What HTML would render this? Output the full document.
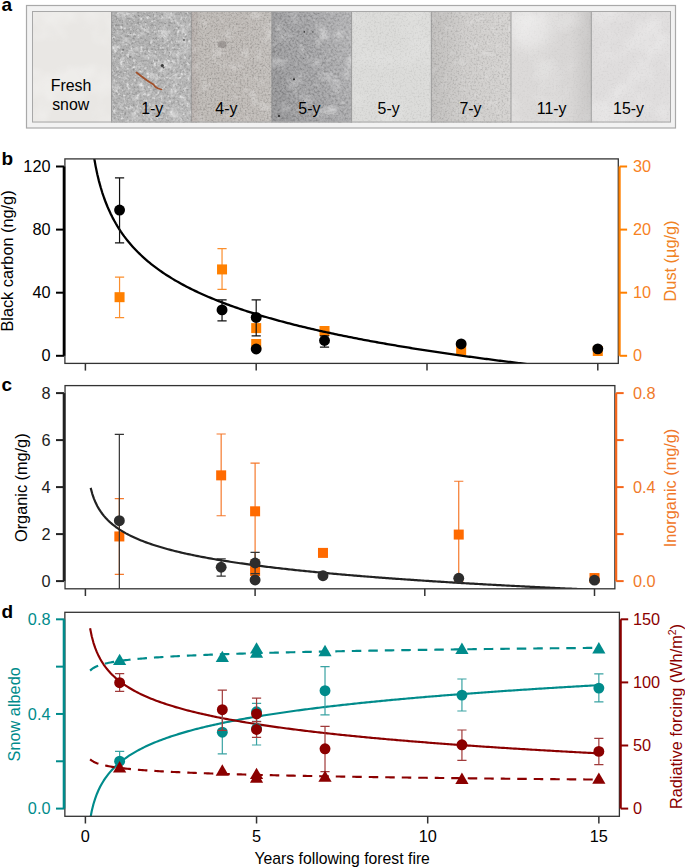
<!DOCTYPE html>
<html><head><meta charset="utf-8"><style>
html,body{margin:0;padding:0;background:#fff;}
body{width:685px;height:868px;overflow:hidden;font-family:"Liberation Sans",sans-serif;}
svg{display:block;}
</style></head><body>
<svg width="685" height="868" viewBox="0 0 685 868">
<defs><filter id="lw" x="0" y="0" width="100%" height="100%" color-interpolation-filters="sRGB"><feTurbulence type="fractalNoise" baseFrequency="0.03" numOctaves="3" seed="5"/><feColorMatrix type="matrix" values="0 0 0 0 1  0 0 0 0 1  0 0 0 0 1  3.0 0 0 0 -1.3"/></filter><filter id="gw1" x="0" y="0" width="100%" height="100%" color-interpolation-filters="sRGB"><feTurbulence type="fractalNoise" baseFrequency="0.45" numOctaves="2" seed="7"/><feColorMatrix type="matrix" values="0 0 0 0 1  0 0 0 0 1  0 0 0 0 1  2.0 0 0 0 -1.0"/><feGaussianBlur stdDeviation="0.45"/></filter><filter id="gk1" x="0" y="0" width="100%" height="100%" color-interpolation-filters="sRGB"><feTurbulence type="fractalNoise" baseFrequency="0.45" numOctaves="2" seed="7"/><feColorMatrix type="matrix" values="0 0 0 0 0  0 0 0 0 0  0 0 0 0 0  -2.0 0 0 0 1.0"/><feGaussianBlur stdDeviation="0.45"/></filter><filter id="gw2" x="0" y="0" width="100%" height="100%" color-interpolation-filters="sRGB"><feTurbulence type="fractalNoise" baseFrequency="0.55" numOctaves="2" seed="17"/><feColorMatrix type="matrix" values="0 0 0 0 1  0 0 0 0 1  0 0 0 0 1  2.0 0 0 0 -1.0"/><feGaussianBlur stdDeviation="0.45"/></filter><filter id="gk2" x="0" y="0" width="100%" height="100%" color-interpolation-filters="sRGB"><feTurbulence type="fractalNoise" baseFrequency="0.55" numOctaves="2" seed="17"/><feColorMatrix type="matrix" values="0 0 0 0 0  0 0 0 0 0  0 0 0 0 0  -2.0 0 0 0 1.0"/><feGaussianBlur stdDeviation="0.45"/></filter><filter id="gw3" x="0" y="0" width="100%" height="100%" color-interpolation-filters="sRGB"><feTurbulence type="fractalNoise" baseFrequency="0.3" numOctaves="2" seed="27"/><feColorMatrix type="matrix" values="0 0 0 0 1  0 0 0 0 1  0 0 0 0 1  2.0 0 0 0 -1.0"/><feGaussianBlur stdDeviation="0.45"/></filter><filter id="gk3" x="0" y="0" width="100%" height="100%" color-interpolation-filters="sRGB"><feTurbulence type="fractalNoise" baseFrequency="0.3" numOctaves="2" seed="27"/><feColorMatrix type="matrix" values="0 0 0 0 0  0 0 0 0 0  0 0 0 0 0  -2.0 0 0 0 1.0"/><feGaussianBlur stdDeviation="0.45"/></filter><filter id="lb1" x="0" y="0" width="100%" height="100%" color-interpolation-filters="sRGB"><feTurbulence type="fractalNoise" baseFrequency="0.1" numOctaves="4" seed="2"/><feColorMatrix type="matrix" values="0 0 0 0 1  0 0 0 0 1  0 0 0 0 1  3.4 0 0 0 -1.75"/></filter><filter id="lf1" x="0" y="0" width="100%" height="100%" color-interpolation-filters="sRGB"><feTurbulence type="fractalNoise" baseFrequency="0.3" numOctaves="2" seed="3"/><feColorMatrix type="matrix" values="0 0 0 0 1  0 0 0 0 1  0 0 0 0 1  3.5 0 0 0 -1.95"/></filter><filter id="dk1" x="0" y="0" width="100%" height="100%" color-interpolation-filters="sRGB"><feTurbulence type="fractalNoise" baseFrequency="0.6" numOctaves="1" seed="4"/><feColorMatrix type="matrix" values="0 0 0 0 0  0 0 0 0 0  0 0 0 0 0  7.0 0 0 0 -4.9"/></filter><filter id="lb2" x="0" y="0" width="100%" height="100%" color-interpolation-filters="sRGB"><feTurbulence type="fractalNoise" baseFrequency="0.08" numOctaves="4" seed="12"/><feColorMatrix type="matrix" values="0 0 0 0 1  0 0 0 0 1  0 0 0 0 1  3.0 0 0 0 -1.6"/></filter><filter id="dk2" x="0" y="0" width="100%" height="100%" color-interpolation-filters="sRGB"><feTurbulence type="fractalNoise" baseFrequency="0.6" numOctaves="1" seed="14"/><feColorMatrix type="matrix" values="0 0 0 0 0  0 0 0 0 0  0 0 0 0 0  7.0 0 0 0 -4.9"/></filter><filter id="lb3" x="0" y="0" width="100%" height="100%" color-interpolation-filters="sRGB"><feTurbulence type="fractalNoise" baseFrequency="0.07" numOctaves="4" seed="22"/><feColorMatrix type="matrix" values="0 0 0 0 1  0 0 0 0 1  0 0 0 0 1  3.0 0 0 0 -1.6"/></filter><filter id="dk3" x="0" y="0" width="100%" height="100%" color-interpolation-filters="sRGB"><feTurbulence type="fractalNoise" baseFrequency="0.6" numOctaves="1" seed="24"/><feColorMatrix type="matrix" values="0 0 0 0 0  0 0 0 0 0  0 0 0 0 0  7.0 0 0 0 -4.9"/></filter><filter id="lb4" x="0" y="0" width="100%" height="100%" color-interpolation-filters="sRGB"><feTurbulence type="fractalNoise" baseFrequency="0.05" numOctaves="4" seed="32"/><feColorMatrix type="matrix" values="0 0 0 0 1  0 0 0 0 1  0 0 0 0 1  3.0 0 0 0 -1.5"/></filter><filter id="lb5" x="0" y="0" width="100%" height="100%" color-interpolation-filters="sRGB"><feTurbulence type="fractalNoise" baseFrequency="0.12" numOctaves="4" seed="42"/><feColorMatrix type="matrix" values="0 0 0 0 1  0 0 0 0 1  0 0 0 0 1  3.0 0 0 0 -1.6"/></filter></defs>
<rect x="26.5" y="5.5" width="649" height="122.5" fill="#f2f2f2" stroke="#a9a9a9" stroke-width="1.2"/>
<rect x="32" y="11" width="639" height="111.5" fill="#ddd"/>
<rect x="32.0" y="11" width="79.5" height="111.5" fill="#e9e7e4"/>
<rect x="111.5" y="11" width="79.8" height="111.5" fill="#acacac"/>
<rect x="191.3" y="11" width="80.5" height="111.5" fill="#bebab6"/>
<rect x="271.8" y="11" width="79.8" height="111.5" fill="#a3a3a5"/>
<rect x="351.6" y="11" width="79.7" height="111.5" fill="#dbdbd9"/>
<rect x="431.3" y="11" width="79.7" height="111.5" fill="#d3d1cf"/>
<rect x="511.0" y="11" width="80.3" height="111.5" fill="#dcdad9"/>
<rect x="591.3" y="11" width="79.7" height="111.5" fill="#dfdddd"/>
<rect x="32.0" y="11" width="79.5" height="111.5" filter="url(#lw)" opacity="0.25"/>
<rect x="111.5" y="11" width="79.8" height="111.5" filter="url(#gw1)" opacity="0.28"/>
<rect x="111.5" y="11" width="79.8" height="111.5" filter="url(#gk1)" opacity="0.28"/>
<rect x="111.5" y="11" width="79.8" height="111.5" filter="url(#lb1)" opacity="0.35"/>
<rect x="111.5" y="11" width="79.8" height="111.5" filter="url(#lf1)" opacity="0.6"/>
<rect x="111.5" y="11" width="79.8" height="111.5" filter="url(#dk1)" opacity="0.2"/>
<rect x="191.3" y="11" width="80.5" height="111.5" filter="url(#gw2)" opacity="0.25"/>
<rect x="191.3" y="11" width="80.5" height="111.5" filter="url(#gk2)" opacity="0.25"/>
<rect x="191.3" y="11" width="80.5" height="111.5" filter="url(#lb2)" opacity="0.3"/>
<rect x="191.3" y="11" width="80.5" height="111.5" filter="url(#dk2)" opacity="0.15"/>
<rect x="271.8" y="11" width="79.8" height="111.5" filter="url(#gw1)" opacity="0.28"/>
<rect x="271.8" y="11" width="79.8" height="111.5" filter="url(#gk1)" opacity="0.28"/>
<rect x="271.8" y="11" width="79.8" height="111.5" filter="url(#lb3)" opacity="0.35"/>
<rect x="271.8" y="11" width="79.8" height="111.5" filter="url(#dk3)" opacity="0.2"/>
<rect x="351.6" y="11" width="79.7" height="111.5" filter="url(#gw2)" opacity="0.1"/>
<rect x="351.6" y="11" width="79.7" height="111.5" filter="url(#gk2)" opacity="0.1"/>
<rect x="351.6" y="11" width="79.7" height="111.5" filter="url(#lw)" opacity="0.12"/>
<rect x="431.3" y="11" width="79.7" height="111.5" filter="url(#gw2)" opacity="0.18"/>
<rect x="431.3" y="11" width="79.7" height="111.5" filter="url(#gk2)" opacity="0.18"/>
<rect x="431.3" y="11" width="79.7" height="111.5" filter="url(#lb5)" opacity="0.2"/>
<rect x="511.0" y="11" width="80.3" height="111.5" filter="url(#lw)" opacity="0.22"/>
<rect x="511.0" y="11" width="80.3" height="111.5" filter="url(#gw2)" opacity="0.05"/>
<rect x="511.0" y="11" width="80.3" height="111.5" filter="url(#gk2)" opacity="0.05"/>
<rect x="591.3" y="11" width="79.7" height="111.5" filter="url(#lw)" opacity="0.25"/>
<rect x="591.3" y="11" width="79.7" height="111.5" filter="url(#gw2)" opacity="0.05"/>
<rect x="591.3" y="11" width="79.7" height="111.5" filter="url(#gk2)" opacity="0.05"/>
<defs><linearGradient id="g11" x1="0" x2="1" y1="0" y2="0"><stop offset="0" stop-color="#000" stop-opacity="0"/><stop offset="0.75" stop-color="#000" stop-opacity="0.02"/><stop offset="1" stop-color="#000" stop-opacity="0.09"/></linearGradient><linearGradient id="g7" x1="0" x2="1" y1="0" y2="0"><stop offset="0" stop-color="#000" stop-opacity="0.09"/><stop offset="0.45" stop-color="#000" stop-opacity="0.02"/><stop offset="1" stop-color="#000" stop-opacity="0.0"/></linearGradient><linearGradient id="g1" x1="0" x2="1" y1="0" y2="1"><stop offset="0" stop-color="#fff" stop-opacity="0"/><stop offset="1" stop-color="#fff" stop-opacity="0.15"/></linearGradient><linearGradient id="g4" x1="0" x2="1" y1="0" y2="0"><stop offset="0" stop-color="#5a3030" stop-opacity="0.1"/><stop offset="0.12" stop-color="#5a3030" stop-opacity="0.0"/><stop offset="1" stop-color="#fff" stop-opacity="0.05"/></linearGradient><linearGradient id="g5" x1="0" x2="1" y1="0.3" y2="0"><stop offset="0" stop-color="#000" stop-opacity="0.06"/><stop offset="0.4" stop-color="#fff" stop-opacity="0.0"/><stop offset="1" stop-color="#fff" stop-opacity="0.2"/></linearGradient><filter id="soft"><feGaussianBlur stdDeviation="2"/></filter><filter id="soft6" x="-50%" y="-50%" width="200%" height="200%"><feGaussianBlur stdDeviation="7"/></filter></defs>
<rect x="111.5" y="11" width="79.8" height="111.5" fill="url(#g1)"/>
<rect x="191.3" y="11" width="80.5" height="111.5" fill="url(#g4)"/>
<rect x="271.8" y="11" width="79.8" height="111.5" fill="url(#g5)"/>
<ellipse cx="331" cy="110" rx="6" ry="4" fill="#fff" opacity="0.45" filter="url(#soft)"/>
<rect x="511" y="11" width="80.3" height="111.5" fill="url(#g11)"/>
<clipPath id="c11"><rect x="511" y="11" width="80.3" height="111.5"/></clipPath>
<g clip-path="url(#c11)"><ellipse cx="530" cy="30" rx="22" ry="20" fill="#fff" opacity="0.35" filter="url(#soft6)"/></g>
<rect x="431.3" y="11" width="79.7" height="111.5" fill="url(#g7)"/>
<line x1="111.5" y1="11" x2="111.5" y2="122.5" stroke="#8a8a8a" stroke-width="1" opacity="0.75"/>
<line x1="191.3" y1="11" x2="191.3" y2="122.5" stroke="#8a8a8a" stroke-width="1" opacity="0.75"/>
<line x1="271.8" y1="11" x2="271.8" y2="122.5" stroke="#8a8a8a" stroke-width="1" opacity="0.75"/>
<line x1="351.6" y1="11" x2="351.6" y2="122.5" stroke="#8a8a8a" stroke-width="1" opacity="0.75"/>
<line x1="431.3" y1="11" x2="431.3" y2="122.5" stroke="#8a8a8a" stroke-width="1" opacity="0.75"/>
<line x1="511.0" y1="11" x2="511.0" y2="122.5" stroke="#8a8a8a" stroke-width="1" opacity="0.75"/>
<line x1="591.3" y1="11" x2="591.3" y2="122.5" stroke="#8a8a8a" stroke-width="1" opacity="0.75"/>
<rect x="32.5" y="11.5" width="638" height="110.5" fill="none" stroke="#a8a8a8" stroke-width="1"/>
<path d="M136.5,72.5 Q146,80 151,83 L153.5,84.5 L155,86.5 Q158,89 161.5,89.5" fill="none" stroke="#a0502a" stroke-width="1.7" stroke-linecap="round"/>
<circle cx="162.3" cy="65.5" r="1.6" fill="#3a3a3a"/><circle cx="163.5" cy="67.5" r="1" fill="#555"/>
<ellipse cx="222" cy="44.5" rx="4.5" ry="3.6" fill="#7e7876" opacity="0.5"/>
<circle cx="279" cy="116" r="1.1" fill="#222"/>
<circle cx="294" cy="79.3" r="1" fill="#222"/><circle cx="304.3" cy="31.9" r="0.8" fill="#333"/><circle cx="312.9" cy="31.9" r="0.7" fill="#333"/>
<circle cx="123" cy="50" r="0.7" fill="#444"/><circle cx="130" cy="57" r="0.7" fill="#444"/><circle cx="184" cy="40" r="0.9" fill="#555"/>
<g font-family='"Liberation Sans", sans-serif' font-size="15.9" fill="#000" text-anchor="middle">
<text x="71.0" y="90.9">Fresh</text><text x="70.7" y="109.9">snow</text>
<text x="152.25" y="114">1-y</text>
<text x="226.40" y="114">4-y</text>
<text x="309.35" y="114">5-y</text>
<text x="388.65" y="114">5-y</text>
<text x="470.45" y="114">7-y</text>
<text x="551.70" y="114">11-y</text>
<text x="628.55" y="114">15-y</text>
</g>
<clipPath id="cb"><rect x="64.90400000000001" y="158.9" width="553.3919999999999" height="204.49999999999997"/></clipPath>
<path d="M119.56,277.11 V317.62 M114.96,277.11 H124.16 M114.96,317.62 H124.16" stroke="#fb8f2e" stroke-width="1.2" fill="none"/>
<rect x="114.56" y="292.18" width="10" height="10" fill="#ff8000"/>
<path d="M222.04,248.53 V289.42 M217.44,248.53 H226.64 M217.44,289.42 H226.64" stroke="#fb8f2e" stroke-width="1.2" fill="none"/>
<rect x="217.04" y="264.42" width="10" height="10" fill="#ff8000"/>
<rect x="251.20" y="323.10" width="10" height="10" fill="#ff8000"/>
<rect x="251.20" y="339.00" width="10" height="10" fill="#ff8000"/>
<rect x="319.52" y="326.00" width="10" height="10" fill="#ff8000"/>
<rect x="456.16" y="344.99" width="10" height="10" fill="#ff8000"/>
<rect x="592.80" y="346.00" width="10" height="10" fill="#ff8000"/>
<path d="M92.23,145.06 L93.92,156.64 L95.60,166.12 L97.29,174.15 L98.97,181.12 L100.66,187.26 L102.34,192.77 L104.03,197.75 L105.71,202.30 L107.40,206.48 L109.08,210.36 L110.77,213.97 L112.45,217.35 L114.14,220.52 L115.83,223.52 L117.51,226.35 L119.20,229.04 L120.88,231.59 L122.57,234.03 L124.25,236.36 L125.94,238.59 L127.62,240.73 L129.31,242.79 L130.99,244.76 L132.68,246.67 L134.36,248.51 L136.05,250.29 L137.73,252.01 L139.42,253.67 L141.10,255.29 L142.79,256.85 L144.47,258.37 L146.16,259.85 L147.84,261.29 L149.53,262.69 L151.21,264.05 L152.90,265.38 L154.59,266.67 L156.27,267.94 L157.96,269.17 L159.64,270.38 L161.33,271.56 L163.01,272.71 L164.70,273.84 L166.38,274.94 L168.07,276.02 L169.75,277.09 L171.44,278.12 L173.12,279.14 L174.81,280.14 L176.49,281.12 L178.18,282.09 L179.86,283.03 L181.55,283.96 L183.23,284.87 L184.92,285.77 L186.60,286.65 L188.29,287.52 L189.98,288.37 L191.66,289.21 L193.35,290.04 L195.03,290.85 L196.72,291.66 L198.40,292.44 L200.09,293.22 L201.77,293.99 L203.46,294.74 L205.14,295.49 L206.83,296.22 L208.51,296.95 L210.20,297.66 L211.88,298.37 L213.57,299.06 L215.25,299.75 L216.94,300.42 L218.62,301.09 L220.31,301.75 L221.99,302.41 L223.68,303.05 L225.36,303.69 L227.05,304.31 L228.74,304.94 L230.42,305.55 L232.11,306.16 L233.79,306.76 L235.48,307.35 L237.16,307.94 L238.85,308.52 L240.53,309.09 L242.22,309.66 L243.90,310.22 L245.59,310.78 L247.27,311.33 L248.96,311.87 L250.64,312.41 L252.33,312.94 L254.01,313.47 L255.70,313.99 L257.38,314.51 L259.07,315.02 L260.75,315.53 L262.44,316.03 L264.13,316.53 L265.81,317.02 L267.50,317.51 L269.18,317.99 L270.87,318.47 L272.55,318.95 L274.24,319.42 L275.92,319.89 L277.61,320.35 L279.29,320.81 L280.98,321.26 L282.66,321.71 L284.35,322.16 L286.03,322.60 L287.72,323.04 L289.40,323.48 L291.09,323.91 L292.77,324.34 L294.46,324.76 L296.14,325.18 L297.83,325.60 L299.51,326.02 L301.20,326.43 L302.89,326.84 L304.57,327.24 L306.26,327.65 L307.94,328.05 L309.63,328.44 L311.31,328.84 L313.00,329.23 L314.68,329.61 L316.37,330.00 L318.05,330.38 L319.74,330.76 L321.42,331.14 L323.11,331.51 L324.79,331.88 L326.48,332.25 L328.16,332.61 L329.85,332.98 L331.53,333.34 L333.22,333.70 L334.90,334.05 L336.59,334.41 L338.28,334.76 L339.96,335.11 L341.65,335.45 L343.33,335.80 L345.02,336.14 L346.70,336.48 L348.39,336.82 L350.07,337.15 L351.76,337.49 L353.44,337.82 L355.13,338.15 L356.81,338.47 L358.50,338.80 L360.18,339.12 L361.87,339.44 L363.55,339.76 L365.24,340.08 L366.92,340.40 L368.61,340.71 L370.29,341.02 L371.98,341.33 L373.66,341.64 L375.35,341.95 L377.04,342.25 L378.72,342.55 L380.41,342.85 L382.09,343.15 L383.78,343.45 L385.46,343.75 L387.15,344.04 L388.83,344.33 L390.52,344.62 L392.20,344.91 L393.89,345.20 L395.57,345.49 L397.26,345.77 L398.94,346.05 L400.63,346.34 L402.31,346.62 L404.00,346.89 L405.68,347.17 L407.37,347.45 L409.05,347.72 L410.74,347.99 L412.43,348.27 L414.11,348.54 L415.80,348.80 L417.48,349.07 L419.17,349.34 L420.85,349.60 L422.54,349.87 L424.22,350.13 L425.91,350.39 L427.59,350.65 L429.28,350.91 L430.96,351.16 L432.65,351.42 L434.33,351.67 L436.02,351.93 L437.70,352.18 L439.39,352.43 L441.07,352.68 L442.76,352.93 L444.44,353.17 L446.13,353.42 L447.81,353.66 L449.50,353.91 L451.19,354.15 L452.87,354.39 L454.56,354.63 L456.24,354.87 L457.93,355.11 L459.61,355.35 L461.30,355.58 L462.98,355.82 L464.67,356.05 L466.35,356.28 L468.04,356.52 L469.72,356.75 L471.41,356.98 L473.09,357.21 L474.78,357.43 L476.46,357.66 L478.15,357.89 L479.83,358.11 L481.52,358.34 L483.20,358.56 L484.89,358.78 L486.58,359.00 L488.26,359.22 L489.95,359.44 L491.63,359.66 L493.32,359.88 L495.00,360.09 L496.69,360.31 L498.37,360.52 L500.06,360.74 L501.74,360.95 L503.43,361.16 L505.11,361.37 L506.80,361.58 L508.48,361.79 L510.17,362.00 L511.85,362.21 L513.54,362.42 L515.22,362.62 L516.91,362.83 L518.59,363.03 L520.28,363.24 L521.96,363.44 L523.65,363.64 L525.34,363.85 L527.02,364.05 L528.71,364.25 L530.39,364.45 L532.08,364.64 L533.76,364.84 L535.45,365.04 L537.13,365.24 L538.82,365.43 L540.50,365.63 L542.19,365.82 L543.87,366.01 L545.56,366.21 L547.24,366.40 L548.93,366.59 L550.61,366.78 L552.30,366.97 L553.98,367.16 L555.67,367.35 L557.35,367.54 L559.04,367.72 L560.73,367.91 L562.41,368.10 L564.10,368.28 L565.78,368.47 L567.47,368.65 L569.15,368.83 L570.84,369.02 L572.52,369.20 L574.21,369.38 L575.89,369.56 L577.58,369.74 L579.26,369.92 L580.95,370.10 L582.63,370.28 L584.32,370.46 L586.00,370.63 L587.69,370.81 L589.37,370.98 L591.06,371.16 L592.74,371.34 L594.43,371.51 L596.11,371.68 L597.80,371.86" fill="none" stroke="#000" stroke-width="2.3" clip-path="url(#cb)" stroke-linejoin="round"/>
<path d="M119.56,177.86 V242.85 M114.96,177.86 H124.16 M114.96,242.85 H124.16" stroke="#111" stroke-width="1.2" fill="none"/>
<path d="M222.04,299.96 V320.94 M217.44,299.96 H226.64 M217.44,320.94 H226.64" stroke="#111" stroke-width="1.2" fill="none"/>
<path d="M256.20,299.96 V335.92 M251.60,299.96 H260.80 M251.60,335.92 H260.80" stroke="#111" stroke-width="1.2" fill="none"/>
<path d="M324.52,335.92 V347.12 M319.92,335.92 H329.12 M319.92,347.12 H329.12" stroke="#111" stroke-width="1.2" fill="none"/>
<circle cx="119.56" cy="210.04" r="5.45" fill="#000"/>
<circle cx="222.04" cy="309.89" r="5.45" fill="#000"/>
<circle cx="256.20" cy="317.47" r="5.45" fill="#000"/>
<circle cx="256.20" cy="349.02" r="5.45" fill="#000"/>
<circle cx="324.52" cy="340.50" r="5.45" fill="#000"/>
<circle cx="461.16" cy="343.97" r="5.45" fill="#000"/>
<circle cx="597.80" cy="348.86" r="5.45" fill="#000"/>
<rect x="64.90" y="158.90" width="553.39" height="204.50" fill="none" stroke="#333" stroke-width="1.3"/>
<line x1="85.40" y1="363.40" x2="85.40" y2="370.60" stroke="#333" stroke-width="1.5"/>
<line x1="256.20" y1="363.40" x2="256.20" y2="370.60" stroke="#333" stroke-width="1.5"/>
<line x1="427.00" y1="363.40" x2="427.00" y2="370.60" stroke="#333" stroke-width="1.5"/>
<line x1="597.80" y1="363.40" x2="597.80" y2="370.60" stroke="#333" stroke-width="1.5"/>
<line x1="64" y1="166.50" x2="64" y2="355.80" stroke="#000" stroke-width="2.6"/>
<line x1="56" y1="355.80" x2="64" y2="355.80" stroke="#000" stroke-width="2"/>
<text x="50.5" y="361.45" text-anchor="end" font-family='"Liberation Sans", sans-serif' font-size="16.3" fill="#000">0</text>
<line x1="56" y1="292.70" x2="64" y2="292.70" stroke="#000" stroke-width="2"/>
<text x="50.5" y="298.35" text-anchor="end" font-family='"Liberation Sans", sans-serif' font-size="16.3" fill="#000">40</text>
<line x1="56" y1="229.60" x2="64" y2="229.60" stroke="#000" stroke-width="2"/>
<text x="50.5" y="235.25" text-anchor="end" font-family='"Liberation Sans", sans-serif' font-size="16.3" fill="#000">80</text>
<line x1="56" y1="166.50" x2="64" y2="166.50" stroke="#000" stroke-width="2"/>
<text x="50.5" y="172.15" text-anchor="end" font-family='"Liberation Sans", sans-serif' font-size="16.3" fill="#000">120</text>
<line x1="619.60" y1="166.50" x2="619.60" y2="355.80" stroke="#ff8000" stroke-width="2.2"/>
<line x1="619.60" y1="355.80" x2="627.10" y2="355.80" stroke="#ff8000" stroke-width="2"/>
<text x="633" y="361.45" font-family='"Liberation Sans", sans-serif' font-size="16.3" fill="#f7821f">0</text>
<line x1="619.60" y1="292.70" x2="627.10" y2="292.70" stroke="#ff8000" stroke-width="2"/>
<text x="633" y="298.35" font-family='"Liberation Sans", sans-serif' font-size="16.3" fill="#f7821f">10</text>
<line x1="619.60" y1="229.60" x2="627.10" y2="229.60" stroke="#ff8000" stroke-width="2"/>
<text x="633" y="235.25" font-family='"Liberation Sans", sans-serif' font-size="16.3" fill="#f7821f">20</text>
<line x1="619.60" y1="166.50" x2="627.10" y2="166.50" stroke="#ff8000" stroke-width="2"/>
<text x="633" y="172.15" font-family='"Liberation Sans", sans-serif' font-size="16.3" fill="#f7821f">30</text>
<text transform="translate(12.9,261.0) rotate(-90)" text-anchor="middle" font-family='"Liberation Sans", sans-serif' font-size="16.3" fill="#000">Black carbon (ng/g)</text>
<text transform="translate(675.5,261.0) rotate(-90)" text-anchor="middle" font-family='"Liberation Sans", sans-serif' font-size="16.3" fill="#f08224">Dust (µg/g)</text>
<text x="1.5" y="164.7" font-family='"Liberation Sans", sans-serif' font-weight="bold" font-size="19" fill="#000">b</text>
<text x="1.5" y="10.6" font-family='"Liberation Sans", sans-serif' font-weight="bold" font-size="19" fill="#000">a</text>
<clipPath id="cc"><rect x="65.036" y="385.6" width="549.828" height="203.19999999999993"/></clipPath>
<g clip-path="url(#cc)">
<path d="M119.34,498.62 V574.28 M114.74,498.62 H123.94 M114.74,574.28 H123.94" stroke="#f5792c" stroke-width="1.2" fill="none"/>
<path d="M221.16,433.99 V515.77 M216.56,433.99 H225.76 M216.56,515.77 H225.76" stroke="#f5792c" stroke-width="1.2" fill="none"/>
<path d="M255.10,463.13 V559.95 M250.50,463.13 H259.70 M250.50,559.95 H259.70" stroke="#f5792c" stroke-width="1.2" fill="none"/>
<path d="M458.74,481.23 V581.10 M454.14,481.23 H463.34 M454.14,581.10 H463.34" stroke="#f5792c" stroke-width="1.2" fill="none"/>
</g>
<rect x="114.34" y="531.45" width="10" height="10" fill="#ff6a00"/>
<rect x="216.16" y="470.35" width="10" height="10" fill="#ff6a00"/>
<rect x="250.10" y="506.31" width="10" height="10" fill="#ff6a00"/>
<rect x="250.10" y="566.00" width="10" height="10" fill="#ff6a00"/>
<rect x="317.98" y="547.90" width="10" height="10" fill="#ff6a00"/>
<rect x="453.74" y="529.57" width="10" height="10" fill="#ff6a00"/>
<rect x="589.50" y="573.05" width="10" height="10" fill="#ff6a00"/>
<g clip-path="url(#cc)">
<path d="M119.34,434.46 V616.35 M114.74,434.46 H123.94 M114.74,616.35 H123.94" stroke="#333" stroke-width="1.2" fill="none"/>
<path d="M221.16,558.77 V576.17 M216.56,558.77 H225.76 M216.56,576.17 H225.76" stroke="#333" stroke-width="1.2" fill="none"/>
<path d="M255.10,552.43 V573.58 M250.50,552.43 H259.70 M250.50,573.58 H259.70" stroke="#333" stroke-width="1.2" fill="none"/>
</g>
<path d="M90.66,487.84 L92.34,494.02 L94.02,498.85 L95.70,502.82 L97.38,506.18 L99.06,509.11 L100.74,511.69 L102.42,514.01 L104.10,516.11 L105.78,518.03 L107.46,519.79 L109.13,521.43 L110.81,522.95 L112.49,524.38 L114.17,525.72 L115.85,526.98 L117.53,528.18 L119.21,529.32 L120.89,530.40 L122.57,531.43 L124.25,532.41 L125.93,533.36 L127.61,534.26 L129.29,535.13 L130.97,535.97 L132.65,536.77 L134.33,537.55 L136.01,538.31 L137.69,539.03 L139.37,539.74 L141.04,540.42 L142.72,541.08 L144.40,541.73 L146.08,542.35 L147.76,542.96 L149.44,543.55 L151.12,544.13 L152.80,544.69 L154.48,545.24 L156.16,545.78 L157.84,546.30 L159.52,546.81 L161.20,547.31 L162.88,547.80 L164.56,548.28 L166.24,548.75 L167.92,549.20 L169.60,549.65 L171.27,550.09 L172.95,550.53 L174.63,550.95 L176.31,551.36 L177.99,551.77 L179.67,552.17 L181.35,552.57 L183.03,552.95 L184.71,553.33 L186.39,553.71 L188.07,554.08 L189.75,554.44 L191.43,554.79 L193.11,555.14 L194.79,555.49 L196.47,555.83 L198.15,556.16 L199.83,556.49 L201.51,556.82 L203.18,557.14 L204.86,557.45 L206.54,557.76 L208.22,558.07 L209.90,558.37 L211.58,558.67 L213.26,558.97 L214.94,559.26 L216.62,559.55 L218.30,559.83 L219.98,560.11 L221.66,560.39 L223.34,560.66 L225.02,560.93 L226.70,561.19 L228.38,561.46 L230.06,561.72 L231.74,561.98 L233.42,562.23 L235.09,562.48 L236.77,562.73 L238.45,562.98 L240.13,563.22 L241.81,563.46 L243.49,563.70 L245.17,563.93 L246.85,564.17 L248.53,564.40 L250.21,564.63 L251.89,564.85 L253.57,565.08 L255.25,565.30 L256.93,565.52 L258.61,565.73 L260.29,565.95 L261.97,566.16 L263.65,566.37 L265.32,566.58 L267.00,566.79 L268.68,566.99 L270.36,567.20 L272.04,567.40 L273.72,567.60 L275.40,567.80 L277.08,567.99 L278.76,568.19 L280.44,568.38 L282.12,568.57 L283.80,568.76 L285.48,568.95 L287.16,569.14 L288.84,569.32 L290.52,569.50 L292.20,569.68 L293.88,569.87 L295.56,570.04 L297.23,570.22 L298.91,570.40 L300.59,570.57 L302.27,570.75 L303.95,570.92 L305.63,571.09 L307.31,571.26 L308.99,571.43 L310.67,571.59 L312.35,571.76 L314.03,571.92 L315.71,572.09 L317.39,572.25 L319.07,572.41 L320.75,572.57 L322.43,572.73 L324.11,572.88 L325.79,573.04 L327.47,573.20 L329.14,573.35 L330.82,573.50 L332.50,573.65 L334.18,573.81 L335.86,573.96 L337.54,574.10 L339.22,574.25 L340.90,574.40 L342.58,574.55 L344.26,574.69 L345.94,574.83 L347.62,574.98 L349.30,575.12 L350.98,575.26 L352.66,575.40 L354.34,575.54 L356.02,575.68 L357.70,575.82 L359.37,575.96 L361.05,576.09 L362.73,576.23 L364.41,576.36 L366.09,576.50 L367.77,576.63 L369.45,576.76 L371.13,576.89 L372.81,577.02 L374.49,577.15 L376.17,577.28 L377.85,577.41 L379.53,577.54 L381.21,577.66 L382.89,577.79 L384.57,577.92 L386.25,578.04 L387.93,578.17 L389.61,578.29 L391.28,578.41 L392.96,578.53 L394.64,578.66 L396.32,578.78 L398.00,578.90 L399.68,579.02 L401.36,579.13 L403.04,579.25 L404.72,579.37 L406.40,579.49 L408.08,579.60 L409.76,579.72 L411.44,579.83 L413.12,579.95 L414.80,580.06 L416.48,580.18 L418.16,580.29 L419.84,580.40 L421.52,580.51 L423.19,580.62 L424.87,580.73 L426.55,580.84 L428.23,580.95 L429.91,581.06 L431.59,581.17 L433.27,581.28 L434.95,581.39 L436.63,581.49 L438.31,581.60 L439.99,581.71 L441.67,581.81 L443.35,581.92 L445.03,582.02 L446.71,582.12 L448.39,582.23 L450.07,582.33 L451.75,582.43 L453.42,582.53 L455.10,582.64 L456.78,582.74 L458.46,582.84 L460.14,582.94 L461.82,583.04 L463.50,583.14 L465.18,583.24 L466.86,583.33 L468.54,583.43 L470.22,583.53 L471.90,583.63 L473.58,583.72 L475.26,583.82 L476.94,583.92 L478.62,584.01 L480.30,584.11 L481.98,584.20 L483.66,584.29 L485.33,584.39 L487.01,584.48 L488.69,584.57 L490.37,584.67 L492.05,584.76 L493.73,584.85 L495.41,584.94 L497.09,585.03 L498.77,585.12 L500.45,585.22 L502.13,585.31 L503.81,585.39 L505.49,585.48 L507.17,585.57 L508.85,585.66 L510.53,585.75 L512.21,585.84 L513.89,585.93 L515.57,586.01 L517.24,586.10 L518.92,586.19 L520.60,586.27 L522.28,586.36 L523.96,586.44 L525.64,586.53 L527.32,586.61 L529.00,586.70 L530.68,586.78 L532.36,586.87 L534.04,586.95 L535.72,587.03 L537.40,587.12 L539.08,587.20 L540.76,587.28 L542.44,587.36 L544.12,587.44 L545.80,587.53 L547.47,587.61 L549.15,587.69 L550.83,587.77 L552.51,587.85 L554.19,587.93 L555.87,588.01 L557.55,588.09 L559.23,588.17 L560.91,588.25 L562.59,588.33 L564.27,588.40 L565.95,588.48 L567.63,588.56 L569.31,588.64 L570.99,588.71 L572.67,588.79 L574.35,588.87 L576.03,588.94 L577.71,589.02 L579.38,589.10 L581.06,589.17 L582.74,589.25 L584.42,589.32 L586.10,589.40 L587.78,589.47 L589.46,589.55 L591.14,589.62 L592.82,589.69 L594.50,589.77" fill="none" stroke="#222" stroke-width="2.2" clip-path="url(#cc)" stroke-linejoin="round"/>
<circle cx="119.34" cy="520.71" r="5.45" fill="#2d2d2d"/>
<circle cx="221.16" cy="567.24" r="5.45" fill="#2d2d2d"/>
<circle cx="255.10" cy="563.00" r="5.45" fill="#2d2d2d"/>
<circle cx="255.10" cy="579.93" r="5.45" fill="#2d2d2d"/>
<circle cx="322.98" cy="575.70" r="5.45" fill="#2d2d2d"/>
<circle cx="458.74" cy="578.28" r="5.45" fill="#2d2d2d"/>
<circle cx="594.50" cy="580.16" r="5.45" fill="#2d2d2d"/>
<rect x="65.04" y="385.60" width="549.83" height="203.20" fill="none" stroke="#333" stroke-width="1.3"/>
<line x1="85.40" y1="588.80" x2="85.40" y2="596.00" stroke="#333" stroke-width="1.5"/>
<line x1="255.10" y1="588.80" x2="255.10" y2="596.00" stroke="#333" stroke-width="1.5"/>
<line x1="424.80" y1="588.80" x2="424.80" y2="596.00" stroke="#333" stroke-width="1.5"/>
<line x1="594.50" y1="588.80" x2="594.50" y2="596.00" stroke="#333" stroke-width="1.5"/>
<line x1="64" y1="393.10" x2="64" y2="581.10" stroke="#222" stroke-width="2.6"/>
<line x1="56" y1="581.10" x2="64" y2="581.10" stroke="#222" stroke-width="2"/>
<text x="50.5" y="586.75" text-anchor="end" font-family='"Liberation Sans", sans-serif' font-size="16.3" fill="#222">0</text>
<line x1="56" y1="534.10" x2="64" y2="534.10" stroke="#222" stroke-width="2"/>
<text x="50.5" y="539.75" text-anchor="end" font-family='"Liberation Sans", sans-serif' font-size="16.3" fill="#222">2</text>
<line x1="56" y1="487.10" x2="64" y2="487.10" stroke="#222" stroke-width="2"/>
<text x="50.5" y="492.75" text-anchor="end" font-family='"Liberation Sans", sans-serif' font-size="16.3" fill="#222">4</text>
<line x1="56" y1="440.10" x2="64" y2="440.10" stroke="#222" stroke-width="2"/>
<text x="50.5" y="445.75" text-anchor="end" font-family='"Liberation Sans", sans-serif' font-size="16.3" fill="#222">6</text>
<line x1="56" y1="393.10" x2="64" y2="393.10" stroke="#222" stroke-width="2"/>
<text x="50.5" y="398.75" text-anchor="end" font-family='"Liberation Sans", sans-serif' font-size="16.3" fill="#222">8</text>
<line x1="616.16" y1="393.10" x2="616.16" y2="581.10" stroke="#f5661a" stroke-width="2.2"/>
<line x1="616.16" y1="581.10" x2="623.66" y2="581.10" stroke="#f5661a" stroke-width="2"/>
<text x="633" y="586.75" font-family='"Liberation Sans", sans-serif' font-size="16.3" fill="#f07a2a">0.0</text>
<line x1="616.16" y1="534.10" x2="623.66" y2="534.10" stroke="#f5661a" stroke-width="2"/>
<line x1="616.16" y1="487.10" x2="623.66" y2="487.10" stroke="#f5661a" stroke-width="2"/>
<text x="633" y="492.75" font-family='"Liberation Sans", sans-serif' font-size="16.3" fill="#f07a2a">0.4</text>
<line x1="616.16" y1="440.10" x2="623.66" y2="440.10" stroke="#f5661a" stroke-width="2"/>
<line x1="616.16" y1="393.10" x2="623.66" y2="393.10" stroke="#f5661a" stroke-width="2"/>
<text x="633" y="398.75" font-family='"Liberation Sans", sans-serif' font-size="16.3" fill="#f07a2a">0.8</text>
<text transform="translate(27.1,487.7) rotate(-90)" text-anchor="middle" font-family='"Liberation Sans", sans-serif' font-size="16.3" fill="#000">Organic (mg/g)</text>
<text transform="translate(675.6,488.0) rotate(-90)" text-anchor="middle" font-family='"Liberation Sans", sans-serif' font-size="16.3" fill="#f0782a">Inorganic (mg/g)</text>
<text x="1.5" y="390.5" font-family='"Liberation Sans", sans-serif' font-weight="bold" font-size="19" fill="#000">c</text>
<clipPath id="cd"><rect x="64.86200000000001" y="612.3" width="554.526" height="204.0"/></clipPath>
<path d="M90.09,670.60 L91.79,669.11 L93.48,667.96 L95.18,667.04 L96.87,666.26 L98.57,665.59 L100.26,665.01 L101.96,664.48 L103.66,664.01 L105.35,663.58 L107.05,663.18 L108.74,662.82 L110.44,662.48 L112.14,662.16 L113.83,661.86 L115.53,661.58 L117.22,661.32 L118.92,661.06 L120.62,660.82 L122.31,660.60 L124.01,660.38 L125.70,660.17 L127.40,659.97 L129.09,659.78 L130.79,659.59 L132.49,659.41 L134.18,659.24 L135.88,659.08 L137.57,658.92 L139.27,658.76 L140.97,658.61 L142.66,658.47 L144.36,658.32 L146.05,658.19 L147.75,658.05 L149.44,657.92 L151.14,657.80 L152.84,657.67 L154.53,657.55 L156.23,657.43 L157.92,657.32 L159.62,657.21 L161.32,657.10 L163.01,656.99 L164.71,656.89 L166.40,656.78 L168.10,656.68 L169.80,656.58 L171.49,656.49 L173.19,656.39 L174.88,656.30 L176.58,656.21 L178.27,656.12 L179.97,656.03 L181.67,655.95 L183.36,655.86 L185.06,655.78 L186.75,655.70 L188.45,655.62 L190.15,655.54 L191.84,655.46 L193.54,655.38 L195.23,655.31 L196.93,655.23 L198.63,655.16 L200.32,655.09 L202.02,655.02 L203.71,654.95 L205.41,654.88 L207.10,654.81 L208.80,654.74 L210.50,654.68 L212.19,654.61 L213.89,654.55 L215.58,654.48 L217.28,654.42 L218.98,654.36 L220.67,654.30 L222.37,654.24 L224.06,654.18 L225.76,654.12 L227.45,654.06 L229.15,654.00 L230.85,653.94 L232.54,653.89 L234.24,653.83 L235.93,653.78 L237.63,653.72 L239.33,653.67 L241.02,653.62 L242.72,653.56 L244.41,653.51 L246.11,653.46 L247.81,653.41 L249.50,653.36 L251.20,653.31 L252.89,653.26 L254.59,653.21 L256.28,653.16 L257.98,653.11 L259.68,653.07 L261.37,653.02 L263.07,652.97 L264.76,652.93 L266.46,652.88 L268.16,652.84 L269.85,652.79 L271.55,652.75 L273.24,652.70 L274.94,652.66 L276.64,652.62 L278.33,652.57 L280.03,652.53 L281.72,652.49 L283.42,652.45 L285.11,652.41 L286.81,652.37 L288.51,652.33 L290.20,652.28 L291.90,652.24 L293.59,652.21 L295.29,652.17 L296.99,652.13 L298.68,652.09 L300.38,652.05 L302.07,652.01 L303.77,651.97 L305.46,651.94 L307.16,651.90 L308.86,651.86 L310.55,651.83 L312.25,651.79 L313.94,651.75 L315.64,651.72 L317.34,651.68 L319.03,651.65 L320.73,651.61 L322.42,651.58 L324.12,651.54 L325.82,651.51 L327.51,651.47 L329.21,651.44 L330.90,651.41 L332.60,651.37 L334.29,651.34 L335.99,651.31 L337.69,651.27 L339.38,651.24 L341.08,651.21 L342.77,651.18 L344.47,651.14 L346.17,651.11 L347.86,651.08 L349.56,651.05 L351.25,651.02 L352.95,650.99 L354.64,650.96 L356.34,650.93 L358.04,650.90 L359.73,650.87 L361.43,650.84 L363.12,650.81 L364.82,650.78 L366.52,650.75 L368.21,650.72 L369.91,650.69 L371.60,650.66 L373.30,650.63 L375.00,650.60 L376.69,650.58 L378.39,650.55 L380.08,650.52 L381.78,650.49 L383.47,650.46 L385.17,650.44 L386.87,650.41 L388.56,650.38 L390.26,650.36 L391.95,650.33 L393.65,650.30 L395.35,650.27 L397.04,650.25 L398.74,650.22 L400.43,650.20 L402.13,650.17 L403.83,650.14 L405.52,650.12 L407.22,650.09 L408.91,650.07 L410.61,650.04 L412.30,650.02 L414.00,649.99 L415.70,649.97 L417.39,649.94 L419.09,649.92 L420.78,649.89 L422.48,649.87 L424.18,649.84 L425.87,649.82 L427.57,649.80 L429.26,649.77 L430.96,649.75 L432.65,649.72 L434.35,649.70 L436.05,649.68 L437.74,649.65 L439.44,649.63 L441.13,649.61 L442.83,649.58 L444.53,649.56 L446.22,649.54 L447.92,649.52 L449.61,649.49 L451.31,649.47 L453.01,649.45 L454.70,649.43 L456.40,649.40 L458.09,649.38 L459.79,649.36 L461.48,649.34 L463.18,649.32 L464.88,649.29 L466.57,649.27 L468.27,649.25 L469.96,649.23 L471.66,649.21 L473.36,649.19 L475.05,649.16 L476.75,649.14 L478.44,649.12 L480.14,649.10 L481.84,649.08 L483.53,649.06 L485.23,649.04 L486.92,649.02 L488.62,649.00 L490.31,648.98 L492.01,648.96 L493.71,648.94 L495.40,648.92 L497.10,648.90 L498.79,648.88 L500.49,648.86 L502.19,648.84 L503.88,648.82 L505.58,648.80 L507.27,648.78 L508.97,648.76 L510.66,648.74 L512.36,648.72 L514.06,648.70 L515.75,648.68 L517.45,648.66 L519.14,648.64 L520.84,648.63 L522.54,648.61 L524.23,648.59 L525.93,648.57 L527.62,648.55 L529.32,648.53 L531.02,648.51 L532.71,648.50 L534.41,648.48 L536.10,648.46 L537.80,648.44 L539.49,648.42 L541.19,648.40 L542.89,648.39 L544.58,648.37 L546.28,648.35 L547.97,648.33 L549.67,648.32 L551.37,648.30 L553.06,648.28 L554.76,648.26 L556.45,648.24 L558.15,648.23 L559.85,648.21 L561.54,648.19 L563.24,648.18 L564.93,648.16 L566.63,648.14 L568.32,648.12 L570.02,648.11 L571.72,648.09 L573.41,648.07 L575.11,648.06 L576.80,648.04 L578.50,648.02 L580.20,648.01 L581.89,647.99 L583.59,647.97 L585.28,647.96 L586.98,647.94 L588.67,647.92 L590.37,647.91 L592.07,647.89 L593.76,647.88 L595.46,647.86 L597.15,647.84 L598.85,647.83" fill="none" stroke="#008b8b" stroke-width="2.15" stroke-dasharray="9.5 7" clip-path="url(#cd)" stroke-linejoin="round"/>
<path d="M90.09,819.61 L91.79,810.77 L93.48,804.03 L95.18,798.57 L96.87,793.99 L98.57,790.05 L100.26,786.58 L101.96,783.49 L103.66,780.70 L105.35,778.15 L107.05,775.82 L108.74,773.66 L110.44,771.65 L112.14,769.77 L113.83,768.01 L115.53,766.35 L117.22,764.79 L118.92,763.30 L120.62,761.89 L122.31,760.54 L124.01,759.25 L125.70,758.02 L127.40,756.84 L129.09,755.71 L130.79,754.62 L132.49,753.57 L134.18,752.56 L135.88,751.58 L137.57,750.63 L139.27,749.72 L140.97,748.83 L142.66,747.97 L144.36,747.13 L146.05,746.32 L147.75,745.53 L149.44,744.76 L151.14,744.02 L152.84,743.29 L154.53,742.58 L156.23,741.88 L157.92,741.20 L159.62,740.54 L161.32,739.90 L163.01,739.26 L164.71,738.64 L166.40,738.04 L168.10,737.45 L169.80,736.86 L171.49,736.30 L173.19,735.74 L174.88,735.19 L176.58,734.65 L178.27,734.12 L179.97,733.61 L181.67,733.10 L183.36,732.60 L185.06,732.11 L186.75,731.62 L188.45,731.15 L190.15,730.68 L191.84,730.22 L193.54,729.77 L195.23,729.32 L196.93,728.88 L198.63,728.45 L200.32,728.03 L202.02,727.61 L203.71,727.19 L205.41,726.79 L207.10,726.38 L208.80,725.99 L210.50,725.60 L212.19,725.21 L213.89,724.83 L215.58,724.46 L217.28,724.09 L218.98,723.72 L220.67,723.36 L222.37,723.00 L224.06,722.65 L225.76,722.30 L227.45,721.96 L229.15,721.62 L230.85,721.28 L232.54,720.95 L234.24,720.62 L235.93,720.30 L237.63,719.98 L239.33,719.66 L241.02,719.35 L242.72,719.04 L244.41,718.73 L246.11,718.43 L247.81,718.13 L249.50,717.83 L251.20,717.53 L252.89,717.24 L254.59,716.95 L256.28,716.67 L257.98,716.39 L259.68,716.11 L261.37,715.83 L263.07,715.55 L264.76,715.28 L266.46,715.01 L268.16,714.75 L269.85,714.48 L271.55,714.22 L273.24,713.96 L274.94,713.70 L276.64,713.45 L278.33,713.19 L280.03,712.94 L281.72,712.70 L283.42,712.45 L285.11,712.20 L286.81,711.96 L288.51,711.72 L290.20,711.48 L291.90,711.25 L293.59,711.01 L295.29,710.78 L296.99,710.55 L298.68,710.32 L300.38,710.10 L302.07,709.87 L303.77,709.65 L305.46,709.43 L307.16,709.21 L308.86,708.99 L310.55,708.77 L312.25,708.56 L313.94,708.34 L315.64,708.13 L317.34,707.92 L319.03,707.71 L320.73,707.51 L322.42,707.30 L324.12,707.10 L325.82,706.89 L327.51,706.69 L329.21,706.49 L330.90,706.30 L332.60,706.10 L334.29,705.90 L335.99,705.71 L337.69,705.52 L339.38,705.32 L341.08,705.13 L342.77,704.94 L344.47,704.76 L346.17,704.57 L347.86,704.38 L349.56,704.20 L351.25,704.02 L352.95,703.83 L354.64,703.65 L356.34,703.47 L358.04,703.29 L359.73,703.12 L361.43,702.94 L363.12,702.76 L364.82,702.59 L366.52,702.42 L368.21,702.25 L369.91,702.07 L371.60,701.90 L373.30,701.73 L375.00,701.57 L376.69,701.40 L378.39,701.23 L380.08,701.07 L381.78,700.90 L383.47,700.74 L385.17,700.58 L386.87,700.42 L388.56,700.26 L390.26,700.10 L391.95,699.94 L393.65,699.78 L395.35,699.62 L397.04,699.47 L398.74,699.31 L400.43,699.16 L402.13,699.00 L403.83,698.85 L405.52,698.70 L407.22,698.55 L408.91,698.40 L410.61,698.25 L412.30,698.10 L414.00,697.95 L415.70,697.80 L417.39,697.66 L419.09,697.51 L420.78,697.36 L422.48,697.22 L424.18,697.08 L425.87,696.93 L427.57,696.79 L429.26,696.65 L430.96,696.51 L432.65,696.37 L434.35,696.23 L436.05,696.09 L437.74,695.95 L439.44,695.81 L441.13,695.68 L442.83,695.54 L444.53,695.41 L446.22,695.27 L447.92,695.14 L449.61,695.00 L451.31,694.87 L453.01,694.74 L454.70,694.61 L456.40,694.48 L458.09,694.34 L459.79,694.21 L461.48,694.09 L463.18,693.96 L464.88,693.83 L466.57,693.70 L468.27,693.57 L469.96,693.45 L471.66,693.32 L473.36,693.20 L475.05,693.07 L476.75,692.95 L478.44,692.82 L480.14,692.70 L481.84,692.58 L483.53,692.45 L485.23,692.33 L486.92,692.21 L488.62,692.09 L490.31,691.97 L492.01,691.85 L493.71,691.73 L495.40,691.61 L497.10,691.49 L498.79,691.38 L500.49,691.26 L502.19,691.14 L503.88,691.03 L505.58,690.91 L507.27,690.80 L508.97,690.68 L510.66,690.57 L512.36,690.45 L514.06,690.34 L515.75,690.23 L517.45,690.11 L519.14,690.00 L520.84,689.89 L522.54,689.78 L524.23,689.67 L525.93,689.56 L527.62,689.45 L529.32,689.34 L531.02,689.23 L532.71,689.12 L534.41,689.01 L536.10,688.90 L537.80,688.80 L539.49,688.69 L541.19,688.58 L542.89,688.48 L544.58,688.37 L546.28,688.26 L547.97,688.16 L549.67,688.05 L551.37,687.95 L553.06,687.85 L554.76,687.74 L556.45,687.64 L558.15,687.54 L559.85,687.43 L561.54,687.33 L563.24,687.23 L564.93,687.13 L566.63,687.03 L568.32,686.93 L570.02,686.83 L571.72,686.73 L573.41,686.63 L575.11,686.53 L576.80,686.43 L578.50,686.33 L580.20,686.23 L581.89,686.13 L583.59,686.04 L585.28,685.94 L586.98,685.84 L588.67,685.74 L590.37,685.65 L592.07,685.55 L593.76,685.46 L595.46,685.36 L597.15,685.27 L598.85,685.17" fill="none" stroke="#008b8b" stroke-width="2.15" clip-path="url(#cd)" stroke-linejoin="round"/>
<path d="M90.09,759.31 L91.79,760.65 L93.48,761.66 L95.18,762.48 L96.87,763.17 L98.57,763.77 L100.26,764.29 L101.96,764.76 L103.66,765.18 L105.35,765.56 L107.05,765.91 L108.74,766.24 L110.44,766.54 L112.14,766.82 L113.83,767.09 L115.53,767.34 L117.22,767.57 L118.92,767.80 L120.62,768.01 L122.31,768.21 L124.01,768.41 L125.70,768.59 L127.40,768.77 L129.09,768.94 L130.79,769.11 L132.49,769.26 L134.18,769.42 L135.88,769.56 L137.57,769.71 L139.27,769.84 L140.97,769.98 L142.66,770.11 L144.36,770.23 L146.05,770.36 L147.75,770.47 L149.44,770.59 L151.14,770.70 L152.84,770.81 L154.53,770.92 L156.23,771.02 L157.92,771.13 L159.62,771.23 L161.32,771.32 L163.01,771.42 L164.71,771.51 L166.40,771.60 L168.10,771.69 L169.80,771.78 L171.49,771.87 L173.19,771.95 L174.88,772.03 L176.58,772.11 L178.27,772.19 L179.97,772.27 L181.67,772.35 L183.36,772.42 L185.06,772.50 L186.75,772.57 L188.45,772.64 L190.15,772.71 L191.84,772.78 L193.54,772.85 L195.23,772.92 L196.93,772.98 L198.63,773.05 L200.32,773.11 L202.02,773.18 L203.71,773.24 L205.41,773.30 L207.10,773.36 L208.80,773.42 L210.50,773.48 L212.19,773.54 L213.89,773.59 L215.58,773.65 L217.28,773.71 L218.98,773.76 L220.67,773.82 L222.37,773.87 L224.06,773.92 L225.76,773.97 L227.45,774.03 L229.15,774.08 L230.85,774.13 L232.54,774.18 L234.24,774.23 L235.93,774.28 L237.63,774.32 L239.33,774.37 L241.02,774.42 L242.72,774.47 L244.41,774.51 L246.11,774.56 L247.81,774.60 L249.50,774.65 L251.20,774.69 L252.89,774.74 L254.59,774.78 L256.28,774.82 L257.98,774.87 L259.68,774.91 L261.37,774.95 L263.07,774.99 L264.76,775.03 L266.46,775.07 L268.16,775.11 L269.85,775.15 L271.55,775.19 L273.24,775.23 L274.94,775.27 L276.64,775.31 L278.33,775.35 L280.03,775.38 L281.72,775.42 L283.42,775.46 L285.11,775.50 L286.81,775.53 L288.51,775.57 L290.20,775.60 L291.90,775.64 L293.59,775.68 L295.29,775.71 L296.99,775.75 L298.68,775.78 L300.38,775.81 L302.07,775.85 L303.77,775.88 L305.46,775.91 L307.16,775.95 L308.86,775.98 L310.55,776.01 L312.25,776.05 L313.94,776.08 L315.64,776.11 L317.34,776.14 L319.03,776.17 L320.73,776.20 L322.42,776.23 L324.12,776.27 L325.82,776.30 L327.51,776.33 L329.21,776.36 L330.90,776.39 L332.60,776.42 L334.29,776.45 L335.99,776.47 L337.69,776.50 L339.38,776.53 L341.08,776.56 L342.77,776.59 L344.47,776.62 L346.17,776.65 L347.86,776.67 L349.56,776.70 L351.25,776.73 L352.95,776.76 L354.64,776.78 L356.34,776.81 L358.04,776.84 L359.73,776.87 L361.43,776.89 L363.12,776.92 L364.82,776.94 L366.52,776.97 L368.21,777.00 L369.91,777.02 L371.60,777.05 L373.30,777.07 L375.00,777.10 L376.69,777.12 L378.39,777.15 L380.08,777.17 L381.78,777.20 L383.47,777.22 L385.17,777.25 L386.87,777.27 L388.56,777.30 L390.26,777.32 L391.95,777.34 L393.65,777.37 L395.35,777.39 L397.04,777.42 L398.74,777.44 L400.43,777.46 L402.13,777.49 L403.83,777.51 L405.52,777.53 L407.22,777.55 L408.91,777.58 L410.61,777.60 L412.30,777.62 L414.00,777.64 L415.70,777.67 L417.39,777.69 L419.09,777.71 L420.78,777.73 L422.48,777.75 L424.18,777.78 L425.87,777.80 L427.57,777.82 L429.26,777.84 L430.96,777.86 L432.65,777.88 L434.35,777.90 L436.05,777.92 L437.74,777.94 L439.44,777.97 L441.13,777.99 L442.83,778.01 L444.53,778.03 L446.22,778.05 L447.92,778.07 L449.61,778.09 L451.31,778.11 L453.01,778.13 L454.70,778.15 L456.40,778.17 L458.09,778.19 L459.79,778.21 L461.48,778.23 L463.18,778.25 L464.88,778.26 L466.57,778.28 L468.27,778.30 L469.96,778.32 L471.66,778.34 L473.36,778.36 L475.05,778.38 L476.75,778.40 L478.44,778.42 L480.14,778.43 L481.84,778.45 L483.53,778.47 L485.23,778.49 L486.92,778.51 L488.62,778.53 L490.31,778.54 L492.01,778.56 L493.71,778.58 L495.40,778.60 L497.10,778.62 L498.79,778.63 L500.49,778.65 L502.19,778.67 L503.88,778.69 L505.58,778.70 L507.27,778.72 L508.97,778.74 L510.66,778.76 L512.36,778.77 L514.06,778.79 L515.75,778.81 L517.45,778.82 L519.14,778.84 L520.84,778.86 L522.54,778.88 L524.23,778.89 L525.93,778.91 L527.62,778.92 L529.32,778.94 L531.02,778.96 L532.71,778.97 L534.41,778.99 L536.10,779.01 L537.80,779.02 L539.49,779.04 L541.19,779.06 L542.89,779.07 L544.58,779.09 L546.28,779.10 L547.97,779.12 L549.67,779.13 L551.37,779.15 L553.06,779.17 L554.76,779.18 L556.45,779.20 L558.15,779.21 L559.85,779.23 L561.54,779.24 L563.24,779.26 L564.93,779.27 L566.63,779.29 L568.32,779.30 L570.02,779.32 L571.72,779.33 L573.41,779.35 L575.11,779.36 L576.80,779.38 L578.50,779.39 L580.20,779.41 L581.89,779.42 L583.59,779.44 L585.28,779.45 L586.98,779.47 L588.67,779.48 L590.37,779.50 L592.07,779.51 L593.76,779.53 L595.46,779.54 L597.15,779.55 L598.85,779.57" fill="none" stroke="#8b0000" stroke-width="2.15" stroke-dasharray="9.5 7" clip-path="url(#cd)" stroke-linejoin="round"/>
<path d="M90.09,628.33 L91.79,636.55 L93.48,642.82 L95.18,647.90 L96.87,652.16 L98.57,655.83 L100.26,659.05 L101.96,661.93 L103.66,664.53 L105.35,666.89 L107.05,669.06 L108.74,671.07 L110.44,672.94 L112.14,674.68 L113.83,676.32 L115.53,677.86 L117.22,679.32 L118.92,680.71 L120.62,682.02 L122.31,683.27 L124.01,684.47 L125.70,685.61 L127.40,686.71 L129.09,687.76 L130.79,688.78 L132.49,689.76 L134.18,690.70 L135.88,691.61 L137.57,692.49 L139.27,693.34 L140.97,694.16 L142.66,694.97 L144.36,695.74 L146.05,696.50 L147.75,697.23 L149.44,697.95 L151.14,698.64 L152.84,699.32 L154.53,699.98 L156.23,700.63 L157.92,701.26 L159.62,701.87 L161.32,702.47 L163.01,703.06 L164.71,703.64 L166.40,704.20 L168.10,704.75 L169.80,705.29 L171.49,705.82 L173.19,706.34 L174.88,706.85 L176.58,707.35 L178.27,707.84 L179.97,708.32 L181.67,708.80 L183.36,709.26 L185.06,709.72 L186.75,710.17 L188.45,710.61 L190.15,711.05 L191.84,711.47 L193.54,711.89 L195.23,712.31 L196.93,712.72 L198.63,713.12 L200.32,713.51 L202.02,713.90 L203.71,714.29 L205.41,714.67 L207.10,715.04 L208.80,715.41 L210.50,715.77 L212.19,716.13 L213.89,716.49 L215.58,716.84 L217.28,717.18 L218.98,717.52 L220.67,717.86 L222.37,718.19 L224.06,718.52 L225.76,718.84 L227.45,719.16 L229.15,719.48 L230.85,719.79 L232.54,720.10 L234.24,720.40 L235.93,720.70 L237.63,721.00 L239.33,721.30 L241.02,721.59 L242.72,721.88 L244.41,722.16 L246.11,722.44 L247.81,722.72 L249.50,723.00 L251.20,723.27 L252.89,723.55 L254.59,723.81 L256.28,724.08 L257.98,724.34 L259.68,724.60 L261.37,724.86 L263.07,725.12 L264.76,725.37 L266.46,725.62 L268.16,725.87 L269.85,726.11 L271.55,726.36 L273.24,726.60 L274.94,726.84 L276.64,727.08 L278.33,727.31 L280.03,727.54 L281.72,727.77 L283.42,728.00 L285.11,728.23 L286.81,728.46 L288.51,728.68 L290.20,728.90 L291.90,729.12 L293.59,729.34 L295.29,729.55 L296.99,729.77 L298.68,729.98 L300.38,730.19 L302.07,730.40 L303.77,730.61 L305.46,730.81 L307.16,731.02 L308.86,731.22 L310.55,731.42 L312.25,731.62 L313.94,731.82 L315.64,732.02 L317.34,732.21 L319.03,732.41 L320.73,732.60 L322.42,732.79 L324.12,732.98 L325.82,733.17 L327.51,733.36 L329.21,733.54 L330.90,733.73 L332.60,733.91 L334.29,734.09 L335.99,734.27 L337.69,734.45 L339.38,734.63 L341.08,734.81 L342.77,734.98 L344.47,735.16 L346.17,735.33 L347.86,735.51 L349.56,735.68 L351.25,735.85 L352.95,736.02 L354.64,736.19 L356.34,736.35 L358.04,736.52 L359.73,736.68 L361.43,736.85 L363.12,737.01 L364.82,737.17 L366.52,737.33 L368.21,737.49 L369.91,737.65 L371.60,737.81 L373.30,737.97 L375.00,738.13 L376.69,738.28 L378.39,738.44 L380.08,738.59 L381.78,738.74 L383.47,738.89 L385.17,739.05 L386.87,739.20 L388.56,739.34 L390.26,739.49 L391.95,739.64 L393.65,739.79 L395.35,739.93 L397.04,740.08 L398.74,740.22 L400.43,740.37 L402.13,740.51 L403.83,740.65 L405.52,740.79 L407.22,740.93 L408.91,741.07 L410.61,741.21 L412.30,741.35 L414.00,741.49 L415.70,741.63 L417.39,741.76 L419.09,741.90 L420.78,742.03 L422.48,742.17 L424.18,742.30 L425.87,742.44 L427.57,742.57 L429.26,742.70 L430.96,742.83 L432.65,742.96 L434.35,743.09 L436.05,743.22 L437.74,743.35 L439.44,743.48 L441.13,743.60 L442.83,743.73 L444.53,743.86 L446.22,743.98 L447.92,744.11 L449.61,744.23 L451.31,744.35 L453.01,744.48 L454.70,744.60 L456.40,744.72 L458.09,744.84 L459.79,744.96 L461.48,745.08 L463.18,745.20 L464.88,745.32 L466.57,745.44 L468.27,745.56 L469.96,745.68 L471.66,745.80 L473.36,745.91 L475.05,746.03 L476.75,746.14 L478.44,746.26 L480.14,746.37 L481.84,746.49 L483.53,746.60 L485.23,746.71 L486.92,746.83 L488.62,746.94 L490.31,747.05 L492.01,747.16 L493.71,747.27 L495.40,747.38 L497.10,747.49 L498.79,747.60 L500.49,747.71 L502.19,747.82 L503.88,747.93 L505.58,748.04 L507.27,748.14 L508.97,748.25 L510.66,748.36 L512.36,748.46 L514.06,748.57 L515.75,748.67 L517.45,748.78 L519.14,748.88 L520.84,748.99 L522.54,749.09 L524.23,749.19 L525.93,749.30 L527.62,749.40 L529.32,749.50 L531.02,749.60 L532.71,749.70 L534.41,749.80 L536.10,749.90 L537.80,750.00 L539.49,750.10 L541.19,750.20 L542.89,750.30 L544.58,750.40 L546.28,750.50 L547.97,750.60 L549.67,750.69 L551.37,750.79 L553.06,750.89 L554.76,750.98 L556.45,751.08 L558.15,751.18 L559.85,751.27 L561.54,751.37 L563.24,751.46 L564.93,751.55 L566.63,751.65 L568.32,751.74 L570.02,751.84 L571.72,751.93 L573.41,752.02 L575.11,752.11 L576.80,752.21 L578.50,752.30 L580.20,752.39 L581.89,752.48 L583.59,752.57 L585.28,752.66 L586.98,752.75 L588.67,752.84 L590.37,752.93 L592.07,753.02 L593.76,753.11 L595.46,753.20 L597.15,753.29 L598.85,753.37" fill="none" stroke="#8b0000" stroke-width="2.15" clip-path="url(#cd)" stroke-linejoin="round"/>
<path d="M119.63,751.40 V771.00 M115.03,751.40 H124.23 M115.03,771.00 H124.23" stroke="#3aa3a3" stroke-width="1.2" fill="none"/>
<path d="M222.32,710.50 V753.90 M217.72,710.50 H226.92 M217.72,753.90 H226.92" stroke="#3aa3a3" stroke-width="1.2" fill="none"/>
<path d="M256.55,703.40 V721.30 M251.95,703.40 H261.15 M251.95,721.30 H261.15" stroke="#3aa3a3" stroke-width="1.2" fill="none"/>
<path d="M256.55,712.00 V745.00 M251.95,712.00 H261.15 M251.95,745.00 H261.15" stroke="#3aa3a3" stroke-width="1.2" fill="none"/>
<path d="M325.01,666.60 V714.80 M320.41,666.60 H329.61 M320.41,714.80 H329.61" stroke="#3aa3a3" stroke-width="1.2" fill="none"/>
<path d="M461.93,679.00 V711.00 M457.33,679.00 H466.53 M457.33,711.00 H466.53" stroke="#3aa3a3" stroke-width="1.2" fill="none"/>
<path d="M598.85,673.90 V701.90 M594.25,673.90 H603.45 M594.25,701.90 H603.45" stroke="#3aa3a3" stroke-width="1.2" fill="none"/>
<circle cx="119.63" cy="761.20" r="5.45" fill="#008b8b"/>
<circle cx="222.32" cy="732.20" r="5.45" fill="#008b8b"/>
<circle cx="256.55" cy="711.80" r="5.45" fill="#008b8b"/>
<circle cx="256.55" cy="728.50" r="5.45" fill="#008b8b"/>
<circle cx="325.01" cy="690.70" r="5.45" fill="#008b8b"/>
<circle cx="461.93" cy="695.10" r="5.45" fill="#008b8b"/>
<circle cx="598.85" cy="688.10" r="5.45" fill="#008b8b"/>
<path d="M119.63,653.70 L126.23,665.10 L113.03,665.10 Z" fill="#008b8b"/>
<path d="M222.32,650.70 L228.92,662.10 L215.72,662.10 Z" fill="#008b8b"/>
<path d="M256.55,642.20 L263.15,653.60 L249.95,653.60 Z" fill="#008b8b"/>
<path d="M256.55,646.30 L263.15,657.70 L249.95,657.70 Z" fill="#008b8b"/>
<path d="M325.01,644.80 L331.61,656.20 L318.41,656.20 Z" fill="#008b8b"/>
<path d="M461.93,642.60 L468.53,654.00 L455.33,654.00 Z" fill="#008b8b"/>
<path d="M598.85,642.00 L605.45,653.40 L592.25,653.40 Z" fill="#008b8b"/>
<path d="M119.63,673.70 V691.30 M115.03,673.70 H124.23 M115.03,691.30 H124.23" stroke="#a03a3a" stroke-width="1.2" fill="none"/>
<path d="M222.32,690.20 V730.30 M217.72,690.20 H226.92 M217.72,730.30 H226.92" stroke="#a03a3a" stroke-width="1.2" fill="none"/>
<path d="M256.55,698.20 V729.60 M251.95,698.20 H261.15 M251.95,729.60 H261.15" stroke="#a03a3a" stroke-width="1.2" fill="none"/>
<path d="M256.55,721.60 V737.40 M251.95,721.60 H261.15 M251.95,737.40 H261.15" stroke="#a03a3a" stroke-width="1.2" fill="none"/>
<path d="M325.01,726.40 V771.60 M320.41,726.40 H329.61 M320.41,771.60 H329.61" stroke="#a03a3a" stroke-width="1.2" fill="none"/>
<path d="M461.93,730.00 V760.30 M457.33,730.00 H466.53 M457.33,760.30 H466.53" stroke="#a03a3a" stroke-width="1.2" fill="none"/>
<path d="M598.85,738.40 V764.60 M594.25,738.40 H603.45 M594.25,764.60 H603.45" stroke="#a03a3a" stroke-width="1.2" fill="none"/>
<circle cx="119.63" cy="682.70" r="5.45" fill="#8b0000"/>
<circle cx="222.32" cy="709.70" r="5.45" fill="#8b0000"/>
<circle cx="256.55" cy="713.90" r="5.45" fill="#8b0000"/>
<circle cx="256.55" cy="729.50" r="5.45" fill="#8b0000"/>
<circle cx="325.01" cy="748.80" r="5.45" fill="#8b0000"/>
<circle cx="461.93" cy="744.80" r="5.45" fill="#8b0000"/>
<circle cx="598.85" cy="751.40" r="5.45" fill="#8b0000"/>
<path d="M119.63,761.10 L126.23,772.50 L113.03,772.50 Z" fill="#8b0000"/>
<path d="M222.32,764.30 L228.92,775.70 L215.72,775.70 Z" fill="#8b0000"/>
<path d="M256.55,767.70 L263.15,779.10 L249.95,779.10 Z" fill="#8b0000"/>
<path d="M256.55,771.30 L263.15,782.70 L249.95,782.70 Z" fill="#8b0000"/>
<path d="M325.01,770.40 L331.61,781.80 L318.41,781.80 Z" fill="#8b0000"/>
<path d="M461.93,772.50 L468.53,783.90 L455.33,783.90 Z" fill="#8b0000"/>
<path d="M598.85,772.40 L605.45,783.80 L592.25,783.80 Z" fill="#8b0000"/>
<rect x="64.86" y="612.30" width="554.53" height="204.00" fill="none" stroke="#333" stroke-width="1.3"/>
<line x1="85.40" y1="816.30" x2="85.40" y2="823.50" stroke="#333" stroke-width="1.5"/>
<text x="85.40" y="842.1" text-anchor="middle" font-family='"Liberation Sans", sans-serif' font-size="16.3" fill="#000">0</text>
<line x1="256.55" y1="816.30" x2="256.55" y2="823.50" stroke="#333" stroke-width="1.5"/>
<text x="256.55" y="842.1" text-anchor="middle" font-family='"Liberation Sans", sans-serif' font-size="16.3" fill="#000">5</text>
<line x1="427.70" y1="816.30" x2="427.70" y2="823.50" stroke="#333" stroke-width="1.5"/>
<text x="427.70" y="842.1" text-anchor="middle" font-family='"Liberation Sans", sans-serif' font-size="16.3" fill="#000">10</text>
<line x1="598.85" y1="816.30" x2="598.85" y2="823.50" stroke="#333" stroke-width="1.5"/>
<text x="598.85" y="842.1" text-anchor="middle" font-family='"Liberation Sans", sans-serif' font-size="16.3" fill="#000">15</text>
<line x1="64" y1="619.32" x2="64" y2="808.60" stroke="#008b8b" stroke-width="2.6"/>
<line x1="56" y1="808.60" x2="64" y2="808.60" stroke="#008b8b" stroke-width="2"/>
<text x="50.5" y="814.25" text-anchor="end" font-family='"Liberation Sans", sans-serif' font-size="16.3" fill="#008b8b">0.0</text>
<line x1="56" y1="761.28" x2="64" y2="761.28" stroke="#008b8b" stroke-width="2"/>
<line x1="56" y1="713.96" x2="64" y2="713.96" stroke="#008b8b" stroke-width="2"/>
<text x="50.5" y="719.61" text-anchor="end" font-family='"Liberation Sans", sans-serif' font-size="16.3" fill="#008b8b">0.4</text>
<line x1="56" y1="666.64" x2="64" y2="666.64" stroke="#008b8b" stroke-width="2"/>
<line x1="56" y1="619.32" x2="64" y2="619.32" stroke="#008b8b" stroke-width="2"/>
<text x="50.5" y="624.97" text-anchor="end" font-family='"Liberation Sans", sans-serif' font-size="16.3" fill="#008b8b">0.8</text>
<line x1="620.69" y1="619.30" x2="620.69" y2="808.60" stroke="#8b0000" stroke-width="2.2"/>
<line x1="620.69" y1="808.60" x2="628.19" y2="808.60" stroke="#8b0000" stroke-width="2"/>
<text x="633" y="814.25" font-family='"Liberation Sans", sans-serif' font-size="16.3" fill="#8b0000">0</text>
<line x1="620.69" y1="745.50" x2="628.19" y2="745.50" stroke="#8b0000" stroke-width="2"/>
<text x="633" y="751.15" font-family='"Liberation Sans", sans-serif' font-size="16.3" fill="#8b0000">50</text>
<line x1="620.69" y1="682.40" x2="628.19" y2="682.40" stroke="#8b0000" stroke-width="2"/>
<text x="633" y="688.05" font-family='"Liberation Sans", sans-serif' font-size="16.3" fill="#8b0000">100</text>
<line x1="620.69" y1="619.30" x2="628.19" y2="619.30" stroke="#8b0000" stroke-width="2"/>
<text x="633" y="624.95" font-family='"Liberation Sans", sans-serif' font-size="16.3" fill="#8b0000">150</text>
<text transform="translate(19.5,714.3) rotate(-90)" text-anchor="middle" font-family='"Liberation Sans", sans-serif' font-size="16.3" fill="#008b8b">Snow albedo</text>
<text transform="translate(682.2,716.5) rotate(-90)" text-anchor="middle" font-family='"Liberation Sans", sans-serif' font-size="16.3" fill="#8b0000">Radiative forcing (Wh/m<tspan font-size="10.5" dy="-6">2</tspan><tspan dy="6">)</tspan></text>
<text x="342.2" y="864.3" text-anchor="middle" font-family='"Liberation Sans", sans-serif' font-size="15.75" fill="#000">Years following forest fire</text>
<text x="1.5" y="618.4" font-family='"Liberation Sans", sans-serif' font-weight="bold" font-size="19" fill="#000">d</text>
</svg>
</body></html>
